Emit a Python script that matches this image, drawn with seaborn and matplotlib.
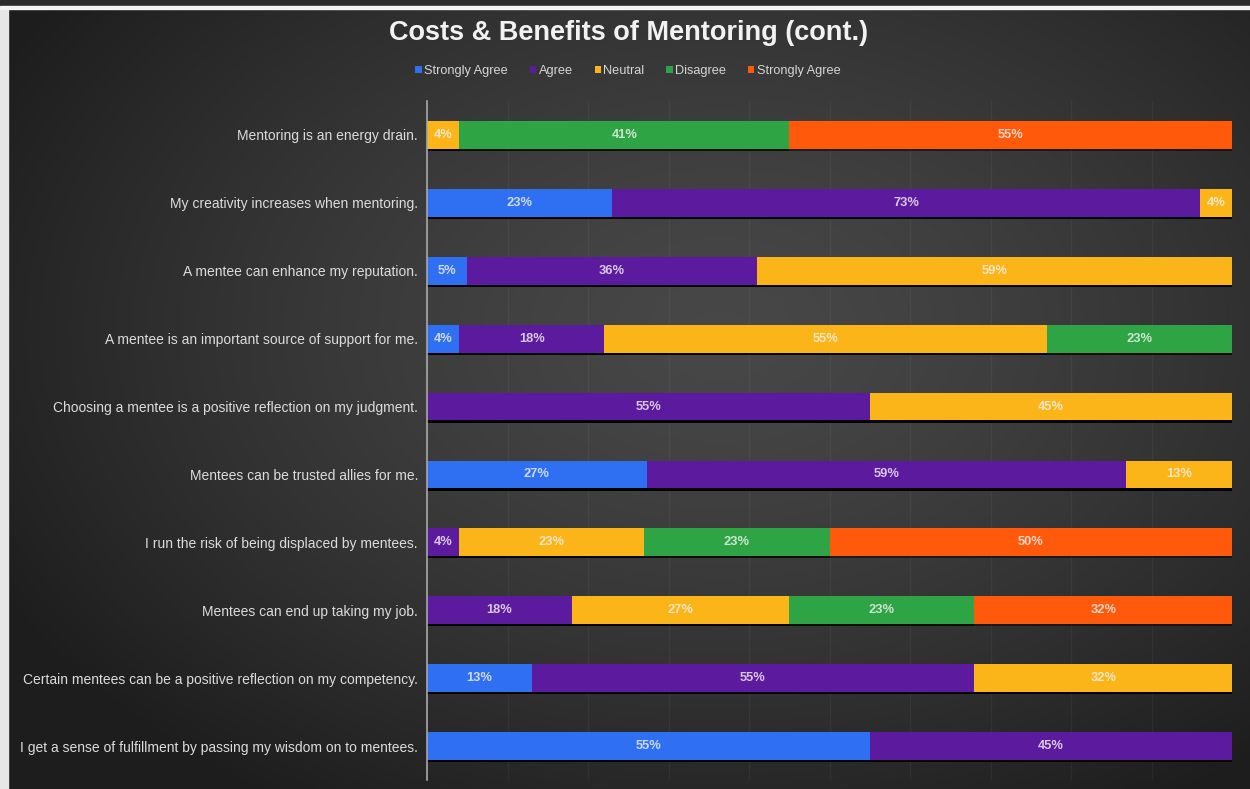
import numpy as np
import pandas as pd
import matplotlib
matplotlib.use("Agg")
import matplotlib.pyplot as plt
import matplotlib.patheffects as pe
from matplotlib.patches import Rectangle, Patch
import seaborn as sns

# Survey statements, top to bottom
statements = [
    "Mentoring is an energy drain.",
    "My creativity increases when mentoring.",
    "A mentee can enhance my reputation.",
    "A mentee is an important source of support for me.",
    "Choosing a mentee is a positive reflection on my judgment.",
    "Mentees can be trusted allies for me.",
    "I run the risk of being displaced by mentees.",
    "Mentees can end up taking my job.",
    "Certain mentees can be a positive reflection on my competency.",
    "I get a sense of fulfillment by passing my wisdom on to mentees.",
]

# Response shares (%) per statement
strongly_agree    = [0, 23, 5, 4, 0, 27, 0, 0, 13, 55]
agree             = [0, 73, 36, 18, 55, 59, 4, 18, 55, 45]
neutral           = [4, 4, 59, 55, 45, 13, 23, 27, 32, 0]
disagree          = [41, 0, 0, 23, 0, 0, 23, 23, 0, 0]
strongly_disagree = [55, 0, 0, 0, 0, 0, 50, 32, 0, 0]

levels = ["Strongly Agree", "Agree", "Neutral", "Disagree", "Strongly Disagree"]
legend_labels = ["Strongly Agree", "Agree", "Neutral", "Disagree", "Strongly Agree"]
colors = ["#2f6ff2", "#5c1a9e", "#fbb518", "#2ea444", "#ff5a0c"]

df = pd.DataFrame(
    {
        "Strongly Agree": strongly_agree,
        "Agree": agree,
        "Neutral": neutral,
        "Disagree": disagree,
        "Strongly Disagree": strongly_disagree,
    },
    index=statements,
)
# 100% stacked: normalise every row to its own total
share = df.div(df.sum(axis=1), axis=0) * 100
cum = share.cumsum(axis=1)

sns.set_style("dark")
plt.rcParams["font.family"] = ["Liberation Sans", "DejaVu Sans"]

W, H = 1250, 789
fig = plt.figure(figsize=(W / 100, H / 100), dpi=100)
fig.patch.set_facecolor("#2a2a2a")

# Dark radial backdrop
bg = fig.add_axes([0, 0, 1, 1], zorder=-10)
yy, xx = np.mgrid[0:H, 0:W]
d = np.sqrt(((xx - 720) / 820.0) ** 2 + ((yy - 330) / 560.0) ** 2)
v = 0.28 - (0.28 - 0.115) * np.clip(d, 0, 1) ** 1.4
img = np.dstack([v, v, v])
bg.imshow(img, extent=[0, W, H, 0], aspect="auto", interpolation="bilinear")
bg.add_patch(Rectangle((0, 0), 8, H, color="#e6e6e6", zorder=2))
bg.add_patch(Rectangle((0, 0), W, 6, color="#2b2b2b", zorder=3))
bg.add_patch(Rectangle((0, 6), W, 2.5, color="#f4f4f4", zorder=4))
bg.set_xlim(0, W)
bg.set_ylim(H, 0)
bg.axis("off")

ax = fig.add_axes([427 / W, 1 - 780 / H, (1232 - 427) / W, (780 - 101) / H])
ax.set_facecolor("none")

# Draw the stacks back-to-front using cumulative totals
for lvl, col in reversed(list(zip(levels, colors))):
    sns.barplot(
        x=cum[lvl].values, y=statements, order=statements, color=col,
        width=0.41, orient="h", saturation=1, errorbar=None, ax=ax, zorder=3,
    )

for p in ax.patches:
    p.set_linewidth(0)
    p.set_path_effects([
        pe.SimplePatchShadow(offset=(0, -1.6), shadow_rgbFace="black", alpha=0.5),
        pe.Normal(),
    ])

# Value labels centred in each segment
for i, s in enumerate(statements):
    start = 0.0
    for lvl in levels:
        val = df.loc[s, lvl]
        w = share.loc[s, lvl]
        if val > 0:
            ax.text(start + w / 2, i, f"{val}%", ha="center", va="center",
                    fontsize=9.3, fontweight="bold", color="#f2f2f2",
                    alpha=0.82, zorder=5)
        start += w

ax.set_xlim(0, 100)
ax.set_ylim(len(statements) - 0.5, -0.5)
ax.set_xticks(np.arange(0, 101, 10))
ax.xaxis.grid(True, color="white", alpha=0.045, linewidth=1.0)
ax.yaxis.grid(False)
ax.set_axisbelow(True)
ax.tick_params(axis="x", length=0, labelbottom=False)
ax.tick_params(axis="y", length=0, pad=6.5, labelsize=10, labelcolor="#dcdcdc")
ax.set_xlabel("")
ax.set_ylabel("")
for side in ["top", "right", "bottom"]:
    ax.spines[side].set_visible(False)
ax.spines["left"].set_color("#a8a8a8")
ax.spines["left"].set_linewidth(1.2)
ax.spines["left"].set_zorder(6)

fig.text(0.503, 1 - 33 / H, "Costs & Benefits of Mentoring (cont.)",
         ha="center", va="center", fontsize=19.5, fontweight="bold", color="#f2f2f2")

handles = [Patch(facecolor=c, edgecolor="none") for c in colors]
fig.legend(handles, legend_labels, loc="center", bbox_to_anchor=(0.5024, 1 - 71 / H),
           ncol=5, frameon=False, fontsize=9.2, labelcolor="#d6d6d6",
           handlelength=0.5, handleheight=0.5, handletextpad=0.2, columnspacing=1.7)

fig.savefig("out.png", dpi=100, facecolor=fig.get_facecolor())
